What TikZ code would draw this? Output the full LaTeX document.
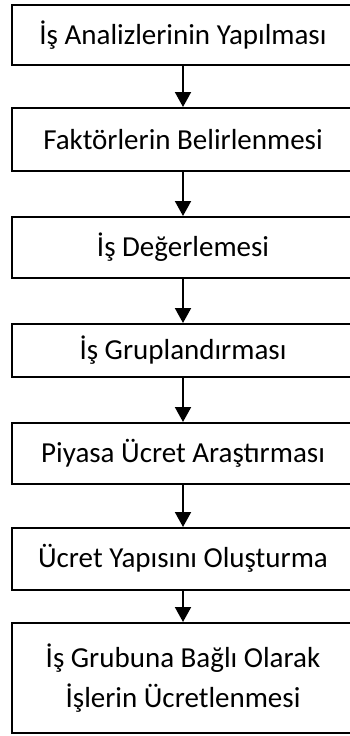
\documentclass[tikz,border=0pt]{standalone}
\usepackage{fontspec}
\setmainfont{Carlito}
\usetikzlibrary{arrows.meta}
\tikzset{
  stepbox/.style={draw=black, line width=1.5pt, minimum width=342pt, inner sep=0pt, anchor=north, align=center, font=\fontsize{29}{40}\selectfont},
  flow/.style={line width=2pt, -{Triangle[width=16pt,length=15pt]}}
}
\begin{document}
\begin{tikzpicture}[x=1pt,y=-1pt]
\useasboundingbox (0,0) rectangle (350,736);
\node[stepbox, minimum height=60pt] (b1) at (183,4) {İş Analizlerinin Yapılması};
\node[stepbox, minimum height=63pt] (b2) at (183,107) {Faktörlerin Belirlenmesi};
\node[stepbox, minimum height=61pt] (b3) at (183,216) {İş Değerlemesi};
\node[stepbox, minimum height=53pt] (b4) at (183,323) {İş Gruplandırması};
\node[stepbox, minimum height=61pt] (b5) at (183,422) {Piyasa Ücret Araştırması};
\node[stepbox, minimum height=62pt] (b6) at (183,527) {Ücret Yapısını Oluşturma};
\node[stepbox, minimum height=110pt] (b7) at (183,622) {İş Grubuna Bağlı Olarak\\İşlerin Ücretlenmesi};
\draw[flow] (b1.south) -- (b2.north);
\draw[flow] (b2.south) -- (b3.north);
\draw[flow] (b3.south) -- (b4.north);
\draw[flow] (b4.south) -- (b5.north);
\draw[flow] (b5.south) -- (b6.north);
\draw[flow] (b6.south) -- (b7.north);
\end{tikzpicture}
\end{document}
